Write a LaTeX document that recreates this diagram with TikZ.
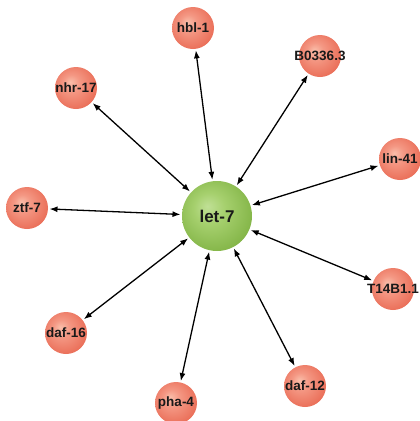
\documentclass[tikz,border=0pt]{standalone}
\usepackage{fontspec}
\setmainfont{Liberation Sans}
\usetikzlibrary{arrows.meta}

\definecolor{salmonhi}{RGB}{250,190,170}
\definecolor{salmonmid}{RGB}{244,152,132}
\definecolor{salmonlo}{RGB}{234,110,88}
\definecolor{greenhi}{RGB}{192,224,150}
\definecolor{greenmid}{RGB}{166,208,110}
\definecolor{greenlo}{RGB}{130,180,70}

% sphere-like shadings, lit from the upper left
\pgfdeclareradialshading{salmonball}{\pgfpoint{-7bp}{7bp}}{%
  color(0bp)=(salmonhi); color(10bp)=(salmonmid); color(29bp)=(salmonlo); color(50bp)=(salmonlo)}
\pgfdeclareradialshading{greenball}{\pgfpoint{-7bp}{7bp}}{%
  color(0bp)=(greenhi); color(11bp)=(greenmid); color(30bp)=(greenlo); color(50bp)=(greenlo)}

% label that does not widen its circle
\newcommand\gene[1]{\makebox[0pt]{#1}}

\tikzset{
  target/.style={circle, minimum size=42pt, inner sep=0pt, outer sep=1.5pt,
    shading=salmonball, font=\bfseries\fontsize{13.5}{13.5}\selectfont, text=black!90},
  hub/.style={circle, minimum size=70pt, inner sep=0pt, outer sep=1.5pt,
    shading=greenball, font=\bfseries\fontsize{17}{17}\selectfont, text=black!90},
  link/.style={{Latex[length=8pt,width=6pt]}-{Latex[length=8pt,width=6pt]},
    line width=1.3pt, black}
}

\begin{document}
\begin{tikzpicture}[x=1pt,y=-1pt]
  \useasboundingbox (0,0) rectangle (420,421);

  \node[hub] (let7) at (217,216) {\gene{let-7}};

  \node[target] (hbl1)   at (193,28)  {\gene{hbl-1}};
  \node[target] (b0336)  at (320,56)  {\gene{B0336.3}};
  \node[target] (nhr17)  at (76,88)   {\gene{nhr-17}};
  \node[target] (lin41)  at (400,159) {\gene{lin-41}};
  \node[target] (ztf7)   at (27,208)  {\gene{ztf-7}};
  \node[target] (t14b11) at (393,289) {\gene{T14B1.1}};
  \node[target] (daf16)  at (66,333)  {\gene{daf-16}};
  \node[target] (pha4)   at (176,403) {\gene{pha-4}};
  \node[target] (daf12)  at (305,386) {\gene{daf-12}};

  \foreach \g in {hbl1,b0336,nhr17,lin41,ztf7,t14b11,daf16,pha4,daf12}
    \draw[link] (let7) -- (\g);
\end{tikzpicture}
\end{document}
